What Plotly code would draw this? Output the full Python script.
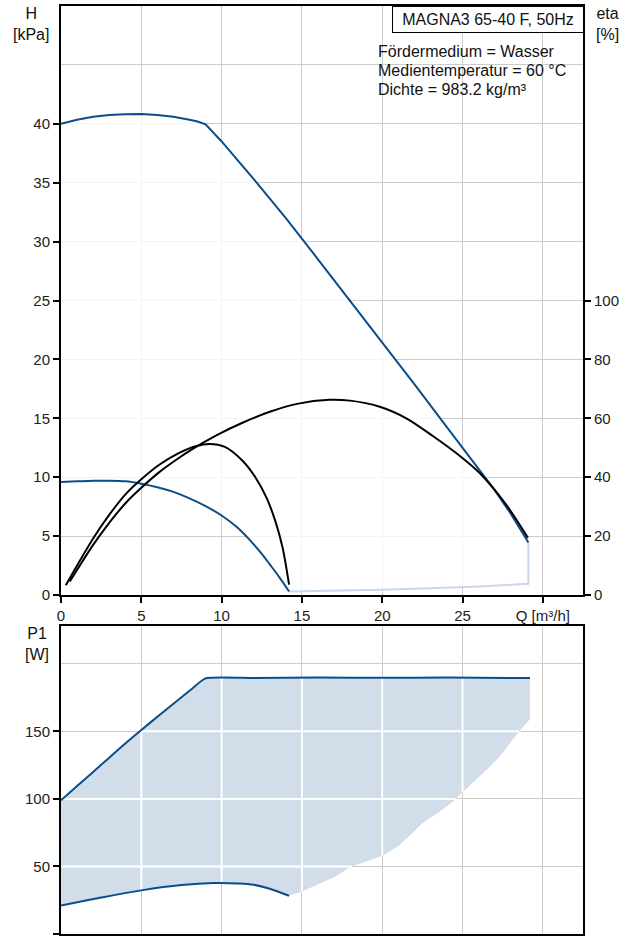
import numpy as np
import plotly.graph_objects as go

# ---------------- data ----------------
# Head, max speed curve (Q m3/h, H kPa)
hmax_q = [0, 1, 2, 3, 4, 5, 6, 7, 8, 8.5, 9, 10, 12, 14, 16, 18, 20, 22, 24, 26, 27, 28, 29.1]
hmax_h = [40.0, 40.35, 40.6, 40.75, 40.82, 40.83, 40.75, 40.6, 40.35, 40.2, 39.95, 38.5, 35.3, 32.0, 28.5, 25.0, 21.5, 17.9, 14.3, 10.7, 8.9, 6.9, 4.45]
# Head, min speed curve
hmin_q = [0, 1, 2, 3, 4, 5, 6, 7, 8, 9, 10, 11, 12, 12.5, 13.0, 13.6, 14.2]
hmin_h = [9.6, 9.65, 9.7, 9.7, 9.65, 9.45, 9.15, 8.75, 8.2, 7.55, 6.75, 5.7, 4.3, 3.5, 2.6, 1.5, 0.3]
# Head, lower boundary of operating range
hlow_q = [14.2, 17, 20, 23, 26, 29.1]
hlow_h = [0.3, 0.36, 0.45, 0.57, 0.72, 0.95]

# Efficiency, max speed curve (%)
etamax_q = [0.55, 2, 3, 4.07, 5, 6.14, 7.2, 8.2, 9.7, 11.3, 13, 14.7, 16.7, 18, 19.8, 21.5, 23.15, 24.7, 26.05, 27.7, 29.07]
etamax_e = [4.6, 17.0, 24.5, 31.5, 36.4, 41.8, 46.0, 49.6, 54.3, 58.5, 62.2, 64.9, 66.3, 66.0, 64.0, 60.0, 54.0, 47.8, 41.5, 30.8, 19.4]
# Efficiency, min speed curve (%)
etamin_q = [0.3, 1.0, 2.0, 3.0, 4.07, 5.0, 6.14, 7.3, 8.43, 9.25, 10.2, 11.3, 12.1, 12.8, 13.35, 13.8, 14.2]
etamin_e = [3.3, 10.0, 19.2, 27.2, 34.5, 39.3, 44.3, 48.1, 50.6, 51.3, 50.3, 45.6, 40.0, 33.0, 25.0, 16.0, 3.5]

# Power P1, max speed curve (W)
pmax_q = [0, 1, 2, 3, 4, 5, 6, 7, 8, 9, 12, 16, 20, 24, 29.2]
pmax_p = [99, 109.5, 120, 130.5, 141, 151, 160.8, 170.5, 180, 189.2, 189.5, 189.8, 189.7, 189.8, 189.5]
# Power P1, min speed curve
pmin_q = [0, 2.5, 5, 7.5, 9.5, 11, 12, 13, 14.2]
pmin_p = [21, 27, 32.3, 36.2, 37.7, 37.4, 36.4, 33.5, 28.3]
# Power P1, lower boundary of operating range
plow_q = [14.2, 15, 16, 17, 18, 19, 20, 21, 22, 22.5, 23.5, 24.4, 25.6, 26.5, 27.3, 28.5, 29.2]
plow_p = [28.3, 31.5, 36.5, 42, 49.5, 53.7, 58, 65, 76, 82, 90, 98, 111.6, 121.5, 131.2, 149.7, 158.9]

x_ticks = [0, 5, 10, 15, 20, 25, 30]
x_ticktext = ["0", "5", "10", "15", "20", "25", "Q [m³/h]"]
h_ticks = [0, 5, 10, 15, 20, 25, 30, 35, 40]
eta_ticks = [0, 20, 40, 60, 80, 100]
p_ticks = [0, 50, 100, 150]

# ---------------- style ----------------
BLUE = "#0b4d8a"
LIGHTBLUE = "#c9d8e8"
FILLBLUE = "#d1dde9"
GRID = "#cccccc"
FONT = "Liberation Sans, Arial, sans-serif"

W, H = 630, 936
ML, MR, MT, MB = 61, 47, 6, 2
PW = W - ML - MR
PH = H - MT - MB


def px(x):
    return (x - ML) / PW


def py(y):
    return (H - MB - y) / PH


fig = go.Figure()

# ---- top chart: operating region (whitened) ----
reg_x = hmax_q + [hmax_q[-1]] + hlow_q[::-1] + hmin_q[::-1]
reg_y = hmax_h + [hlow_h[-1]] + hlow_h[::-1] + hmin_h[::-1]
fig.add_trace(go.Scatter(x=reg_x, y=reg_y, fill="toself", fillcolor="rgba(255,255,255,0.8)",
                         line=dict(width=0), mode="lines", hoverinfo="skip",
                         xaxis="x", yaxis="y"))
# lower / right boundary
fig.add_trace(go.Scatter(x=hlow_q + [hlow_q[-1]], y=hlow_h + [hmax_h[-1]],
                         mode="lines", line=dict(color=LIGHTBLUE, width=2),
                         xaxis="x", yaxis="y"))
fig.add_trace(go.Scatter(x=hmin_q, y=hmin_h, mode="lines", line=dict(color=BLUE, width=2, shape="spline", smoothing=0.8),
                         xaxis="x", yaxis="y"))
fig.add_trace(go.Scatter(x=hmax_q, y=hmax_h, mode="lines", line=dict(color=BLUE, width=2),
                         xaxis="x", yaxis="y"))
fig.add_trace(go.Scatter(x=etamin_q, y=etamin_e, mode="lines", line=dict(color="black", width=2, shape="spline", smoothing=0.8),
                         xaxis="x", yaxis="y2"))
fig.add_trace(go.Scatter(x=etamax_q, y=etamax_e, mode="lines", line=dict(color="black", width=2, shape="spline", smoothing=0.8),
                         xaxis="x", yaxis="y2"))

# ---- bottom chart: P1 region ----
preg_x = pmax_q + [plow_q[-1]] + plow_q[::-1] + pmin_q[::-1]
preg_y = pmax_p + [plow_p[-1]] + plow_p[::-1] + pmin_p[::-1]
fig.add_trace(go.Scatter(x=preg_x, y=preg_y, fill="toself", fillcolor=FILLBLUE,
                         line=dict(width=0), mode="lines", hoverinfo="skip",
                         xaxis="x2", yaxis="y3"))

# white grid segments inside the filled region
low_q = np.array(pmin_q[:-1] + plow_q)
low_p = np.array(pmin_p[:-1] + plow_p)
seg_x, seg_y = [], []
for v in [5, 10, 15, 20, 25]:
    lo = np.interp(v, low_q, low_p)
    hi = np.interp(v, pmax_q, pmax_p)
    seg_x += [v, v, None]
    seg_y += [lo, hi, None]
rise_q = np.array(pmax_q[:10])
rise_p = np.array(pmax_p[:10])
for hgt in [50, 100, 150]:
    xl = 0.0 if hgt <= rise_p[0] else float(np.interp(hgt, rise_p, rise_q))
    xr = float(np.interp(hgt, np.array(plow_p), np.array(plow_q)))
    seg_x += [xl, xr, None]
    seg_y += [hgt, hgt, None]
fig.add_trace(go.Scatter(x=seg_x, y=seg_y, mode="lines", line=dict(color="white", width=2),
                         hoverinfo="skip", xaxis="x2", yaxis="y3"))

fig.add_trace(go.Scatter(x=pmin_q, y=pmin_p, mode="lines", line=dict(color=BLUE, width=2, shape="spline"),
                         xaxis="x2", yaxis="y3"))
fig.add_trace(go.Scatter(x=pmax_q, y=pmax_p, mode="lines", line=dict(color=BLUE, width=2, shape="spline", smoothing=0.5),
                         xaxis="x2", yaxis="y3"))

axis_common = dict(showline=True, linecolor="black", linewidth=2, gridcolor=GRID, gridwidth=1.2,
                   zeroline=False, ticks="outside", ticklen=6, tickcolor="black", tickwidth=1.5,
                   automargin=False,
                   tickfont=dict(family=FONT, size=15, color="#222"))

top_dom = [py(595), 1.0]
bot_dom = [0.0, py(626)]

fig.update_layout(
    width=W, height=H,
    margin=dict(l=ML, r=MR, t=MT, b=MB),
    paper_bgcolor="white", plot_bgcolor="white",
    showlegend=False,
    font=dict(family=FONT, size=15, color="#222"),
    xaxis=dict(axis_common, range=[0, 32.5], tickvals=x_ticks, ticktext=x_ticktext,
               mirror=True, anchor="y", showgrid=True),
    yaxis=dict(axis_common, domain=top_dom, range=[0, 50], tickvals=h_ticks, mirror=True,
               anchor="x", minor=dict(tickmode="linear", tick0=0, dtick=5, showgrid=True,
                                      gridcolor=GRID, gridwidth=1.2, ticks="")),
    yaxis2=dict(axis_common, overlaying="y", side="right", range=[0, 200], tickvals=eta_ticks,
                showgrid=False, anchor="x"),
    xaxis2=dict(axis_common, range=[0, 32.5], tickvals=x_ticks, showticklabels=False,
                mirror=True, anchor="y3", ticks=""),
    yaxis3=dict(axis_common, domain=bot_dom, range=[0, 228], tickvals=p_ticks, mirror=True,
                anchor="x2", minor=dict(tickmode="linear", tick0=0, dtick=50, showgrid=True,
                                        gridcolor=GRID, gridwidth=1.2, ticks="")),
)

anns = []
anns.append(dict(x=px(392), y=py(6), xref="paper", yref="paper", xanchor="left", yanchor="top",
                 text="MAGNA3 65-40 F, 50Hz", showarrow=False, bgcolor="white",
                 bordercolor="black", borderwidth=1, borderpad=4, width=182,
                 font=dict(family=FONT, size=16, color="#111")))
for txt, yy in [("Fördermedium = Wasser", 51), ("Medientemperatur = 60 °C", 70), ("Dichte = 983.2 kg/m³", 89)]:
    anns.append(dict(x=px(376), y=py(yy), xref="paper", yref="paper", xanchor="left", yanchor="middle",
                     text=txt, showarrow=False, font=dict(family=FONT, size=16, color="#111")))
for txt, xx, yy in [("H<br>[kPa]", 31, 24), ("eta<br>[%]", 607, 24), ("P1<br>[W]", 37, 644)]:
    anns.append(dict(x=px(xx), y=py(yy), xref="paper", yref="paper", xanchor="center", yanchor="middle",
                     text=txt, showarrow=False, font=dict(family=FONT, size=16, color="#111")))
fig.update_layout(annotations=anns)

fig.write_html("out.html", config={"displayModeBar": False},
               post_script="document.body.style.margin='0';document.body.style.overflow='hidden';")
